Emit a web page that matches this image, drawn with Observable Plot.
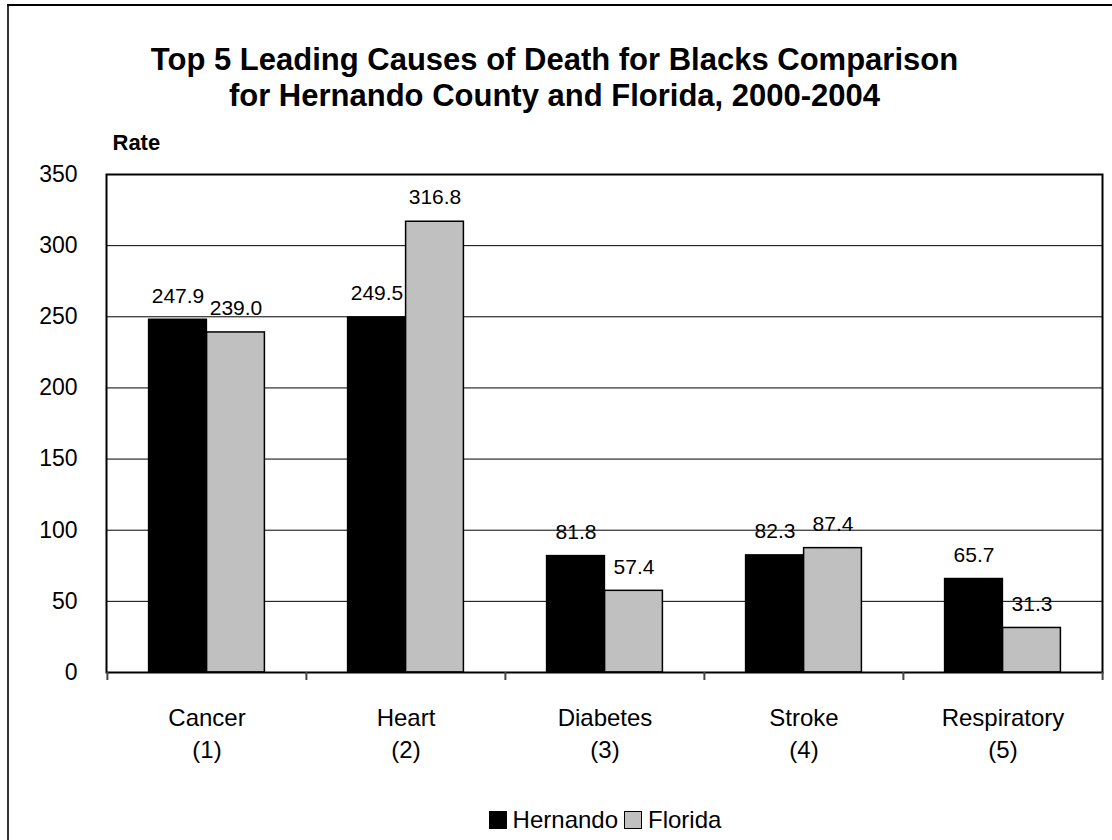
<!DOCTYPE html>
<html>
<head>
<meta charset="utf-8">
<script src="https://cdn.jsdelivr.net/npm/d3@7"></script>
<script src="https://cdn.jsdelivr.net/npm/@observablehq/plot@0.6"></script>
<style>
  html, body { margin: 0; padding: 0; background: #fff; }
  #wrap { position: relative; width: 1112px; height: 840px; overflow: hidden; font-family: "Liberation Sans", Arial, sans-serif; }
  #borderL { position: absolute; left: 7px; top: 4px; width: 2px; height: 836px; background: #333; }
  #borderT { position: absolute; left: 7px; top: 4px; width: 1105px; height: 1.5px; background: #000; }
  #legend { position: absolute; left: 0; width: 1112px; top: 806px; display: flex; justify-content: center; padding-left: 104px; box-sizing: border-box; align-items: center; font-size: 24px; color: #000; }
  .sw { display: inline-block; width: 16px; height: 16px; border: 1px solid #000; margin-right: 6px; }
  .item { display: flex; align-items: center; margin-right: 6px; }
</style>
</head>
<body>
<div id="wrap"></div>
<script>
const causes = ["Cancer", "Heart", "Diabetes", "Stroke", "Respiratory"];
const ranks = ["(1)", "(2)", "(3)", "(4)", "(5)"];
const series = ["Hernando", "Florida"];
const hernando = [247.9, 249.5, 81.8, 82.3, 65.7];
const florida = [239.0, 316.8, 57.4, 87.4, 31.3];
const colors = ["#000000", "#c0c0c0"];
const yTicks = [0, 50, 100, 150, 200, 250, 300, 350];
const titleLines = ["Top 5 Leading Causes of Death for Blacks Comparison", "for Hernando County and Florida, 2000-2004"];
const yLabel = "Rate";

const hData = causes.map((c, i) => ({cause: c, series: series[0], value: hernando[i]}));
const fData = causes.map((c, i) => ({cause: c, series: series[1], value: florida[i]}));

const band = 996 / causes.length;
const barW = 58;
const outer = (band - 2 * barW) / 2;

const font = "Liberation Sans, Arial, sans-serif";

const plot = Plot.plot({
  width: 1112,
  height: 840,
  marginLeft: 106,
  marginRight: 10,
  marginTop: 174,
  marginBottom: 168,
  style: {fontFamily: font, background: "transparent", color: "#000"},
  x: {domain: causes, padding: 0, axis: null},
  y: {domain: [0, 350], ticks: yTicks, axis: null},
  color: {domain: series, range: colors},
  marks: [
    Plot.gridY(yTicks, {stroke: "#000", strokeOpacity: 1, strokeWidth: 1}),
    Plot.axisY(yTicks, {tickSize: 0, tickPadding: 29, fontSize: 23, label: null}),
    Plot.barY(hData, {x: "cause", y: "value", fill: "series", stroke: "#000", strokeWidth: 1.5, insetLeft: outer, insetRight: band - outer - barW}),
    Plot.barY(fData, {x: "cause", y: "value", fill: "series", stroke: "#000", strokeWidth: 1.5, insetLeft: outer + barW, insetRight: outer}),
    Plot.frame({stroke: "#000", strokeWidth: 2}),
    Plot.ruleX(causes, {x: d => d, dx: -band / 2, insetTop: 498, insetBottom: -8, stroke: "#444", strokeWidth: 2}),
    Plot.ruleX([causes[causes.length - 1]], {x: d => d, dx: band / 2, insetTop: 498, insetBottom: -8, stroke: "#444", strokeWidth: 2}),
    Plot.text(hData, {x: "cause", y: "value", text: d => d.value.toFixed(1), dx: -(band / 2 - outer - barW / 2), dy: -24, lineAnchor: "middle", fontSize: 21, fill: "#000"}),
    Plot.text(fData, {x: "cause", y: "value", text: d => d.value.toFixed(1), dx: (band / 2 - outer - barW / 2), dy: -24, lineAnchor: "middle", fontSize: 21, fill: "#000"}),
    Plot.text(causes, {x: d => d, text: (d, i) => `${d}\n${ranks[i]}`, frameAnchor: "bottom", lineAnchor: "top", dy: 31, fontSize: 24, lineHeight: 1.32, fill: "#000"}),
    Plot.text([titleLines.join("\n")], {frameAnchor: "top", dx: -50, dy: -130, lineAnchor: "top", fontSize: 31, fontWeight: "bold", lineHeight: 1.16, fill: "#000"}),
    Plot.text([yLabel], {frameAnchor: "top-left", textAnchor: "start", dx: 6, dy: -32, lineAnchor: "middle", fontSize: 22, fontWeight: "bold", fill: "#000"})
  ]
});

const wrap = document.getElementById("wrap");
wrap.appendChild(plot);
const bl = document.createElement("div"); bl.id = "borderL"; wrap.appendChild(bl);
const bt = document.createElement("div"); bt.id = "borderT"; wrap.appendChild(bt);

const legend = document.createElement("div");
legend.id = "legend";
series.forEach((s, i) => {
  const item = document.createElement("span");
  item.className = "item";
  const sw = document.createElement("span");
  sw.className = "sw";
  sw.style.background = colors[i];
  item.appendChild(sw);
  item.appendChild(document.createTextNode(s));
  legend.appendChild(item);
});
wrap.appendChild(legend);
</script>
</body>
</html>
